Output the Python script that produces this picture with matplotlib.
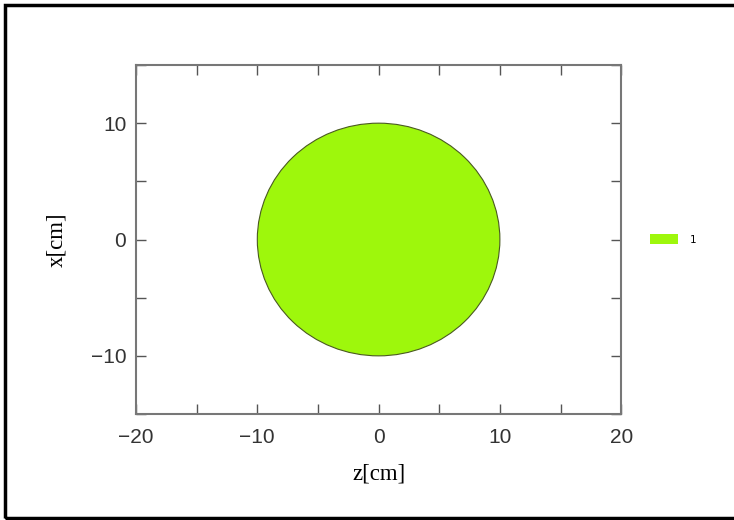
import matplotlib.pyplot as plt
import numpy as np
from matplotlib.patches import Circle, Rectangle, Patch

# region data
region_labels = ["1"]
region_centers = [(0.0, 0.0)]   # (z, x) in cm
region_radii = [10.0]
region_colors = ["#9ef70c"]

x_lim = (-20, 20)
y_lim = (-15, 15)
x_ticks = [-20, -15, -10, -5, 0, 5, 10, 15, 20]
y_ticks = [-15, -10, -5, 0, 5, 10, 15]


def tick_text(t):
    return f"{t}".replace("-", "\u2212")


fig = plt.figure(figsize=(7.34, 5.2), dpi=100)
ax = fig.add_axes([0.1853, 0.2038, 0.661, 0.6712])

for (cz, cx), r, c in zip(region_centers, region_radii, region_colors):
    ax.add_patch(Circle((cz, cx), r, facecolor=c, edgecolor="#4a5a20", linewidth=0.8))

ax.set_xlim(*x_lim)
ax.set_ylim(*y_lim)
ax.set_xticks(x_ticks)
ax.set_yticks(y_ticks)
ax.set_xticklabels([tick_text(t) if t % 10 == 0 else "" for t in x_ticks],
                   family="Liberation Sans")
ax.set_yticklabels([tick_text(t) if t % 10 == 0 and abs(t) < 15 else "" for t in y_ticks],
                   family="Liberation Sans")

ax.tick_params(direction="in", length=7, width=1.0, color="#555555",
               top=True, right=True, labelsize=15, labelcolor="#333333", pad=7)
ax.tick_params(axis="x", pad=10)
for s in ax.spines.values():
    s.set_color("#777777")
    s.set_linewidth(1.5)

ax.set_xlabel("z[cm]", family="Liberation Serif", fontsize=16.5, labelpad=12)
ax.set_ylabel("x[cm]", family="Liberation Serif", fontsize=16.5, labelpad=17)

handles = [Patch(facecolor=c, edgecolor="none") for c in region_colors]
ax.legend(handles, region_labels, loc="center left", bbox_to_anchor=(1.04, 0.5),
          frameon=False, fontsize=7.5, handlelength=2.7, handleheight=1.0,
          handletextpad=1.1)

# outer frame round the figure (cut off on the right in the reference)
fig.patches.append(Rectangle((5 / 734, 2 / 520), 1.1, 513 / 520, transform=fig.transFigure,
                             fill=False, edgecolor="black", linewidth=2.5, clip_on=False))

fig.savefig("out.png", dpi=100)
